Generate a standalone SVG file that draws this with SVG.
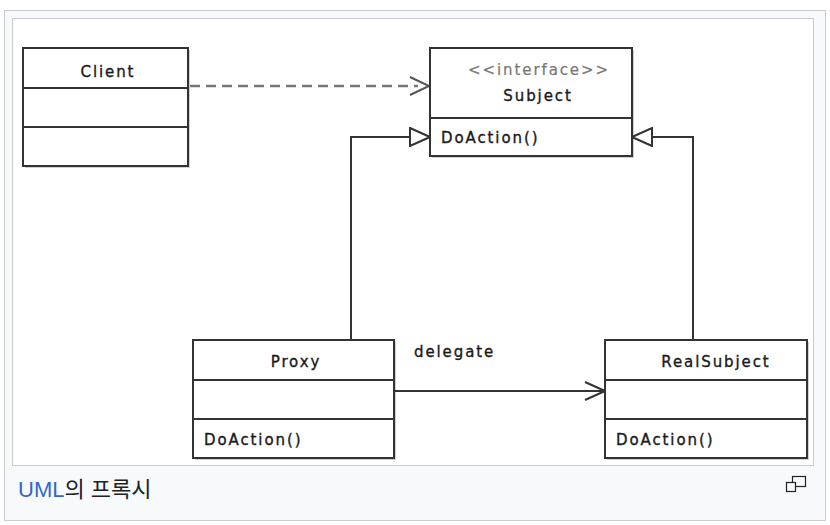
<svg xmlns="http://www.w3.org/2000/svg" width="830" height="525" viewBox="0 0 830 525">
<style>
.frame{fill:#f8f9fa;stroke:#c8ccd1;stroke-width:1}
.inner{fill:#ffffff;stroke:#c8ccd1;stroke-width:1}
.box{fill:#ffffff;stroke:#333333;stroke-width:2}
.shadow{fill:#000000;opacity:0.18}
.div{stroke:#333333;stroke-width:2;fill:none}
.t{font-family:"DejaVu Sans",sans-serif;font-size:15px;fill:#1a1a1a;stroke:#1a1a1a;stroke-width:0.35;letter-spacing:1.9px}
.c{text-anchor:middle}
.st{fill:#777777;stroke:#777777;stroke-width:0.2}
.line{stroke:#333333;stroke-width:2;fill:none}
.dash{stroke:#777777;stroke-width:2.5;fill:none;stroke-dasharray:10 6}
.cap{font-family:"Liberation Sans","Noto Sans CJK KR",sans-serif;font-size:22px;fill:#202122}
</style>
<defs>
<marker id="open" viewBox="0 0 22 20" refX="21" refY="10" markerWidth="22" markerHeight="20" markerUnits="userSpaceOnUse" orient="auto">
<path d="M1,1 L21,10 L1,19" fill="none" stroke="#333333" stroke-width="2"/>
</marker>
<marker id="tri" viewBox="0 0 22 20" refX="21" refY="10" markerWidth="22" markerHeight="20" markerUnits="userSpaceOnUse" orient="auto">
<path d="M1,1 L21,10 L1,19 Z" fill="#ffffff" stroke="#333333" stroke-width="2"/>
</marker>
</defs>
<rect class="frame" x="4.5" y="10.5" width="821" height="510"/>
<rect class="inner" x="12.5" y="18.5" width="801" height="447"/>
<g id="connectors">
<line class="dash" x1="190" y1="86" x2="418" y2="86"/>
<path d="M410,77 L429,86 L410,95" fill="none" stroke="#555555" stroke-width="2"/>
<path class="line" d="M351,340 L351,137 L430,137" marker-end="url(#tri)"/>
<path class="line" d="M693,340 L693,137 L632,137" marker-end="url(#tri)"/>
<path class="line" d="M394,391 L605,391" marker-end="url(#open)"/>
<text class="t" x="414" y="357">delegate</text>
</g>
<g id="client">
<rect class="shadow" x="25" y="50" width="165" height="118"/>
<rect class="box" x="23" y="48" width="165" height="118"/>
<line class="div" x1="23" y1="88" x2="188" y2="88"/>
<line class="div" x1="23" y1="127" x2="188" y2="127"/>
<text class="t c" x="108" y="77">Client</text>
</g>
<g id="subject">
<rect class="shadow" x="432" y="50" width="202" height="108"/>
<rect class="box" x="430" y="48" width="202" height="108"/>
<line class="div" x1="430" y1="118" x2="632" y2="118"/>
<text class="t c st" x="539" y="75">&lt;&lt;interface&gt;&gt;</text>
<text class="t c" x="538" y="101">Subject</text>
<text class="t" x="441" y="143">DoAction()</text>
</g>
<g id="proxy">
<rect class="shadow" x="195" y="342" width="201" height="118"/>
<rect class="box" x="193" y="340" width="201" height="118"/>
<line class="div" x1="193" y1="380" x2="394" y2="380"/>
<line class="div" x1="193" y1="419" x2="394" y2="419"/>
<text class="t c" x="296" y="367">Proxy</text>
<text class="t" x="204" y="445">DoAction()</text>
</g>
<g id="realsubject">
<rect class="shadow" x="607" y="342" width="202" height="118"/>
<rect class="box" x="605" y="340" width="202" height="118"/>
<line class="div" x1="605" y1="380" x2="807" y2="380"/>
<line class="div" x1="605" y1="419" x2="807" y2="419"/>
<text class="t c" x="716" y="367">RealSubject</text>
<text class="t" x="616" y="445">DoAction()</text>
</g>
<g id="caption">
<text class="cap" x="18" y="497"><tspan fill="#3366cc">UML</tspan>의 프록시</text>
<rect x="792.5" y="476.5" width="13" height="10" fill="none" stroke="#202122" stroke-width="1.2"/>
<rect x="786.5" y="482.5" width="9" height="9" fill="#f8f9fa" stroke="#202122" stroke-width="1.2"/>
</g>
</svg>
